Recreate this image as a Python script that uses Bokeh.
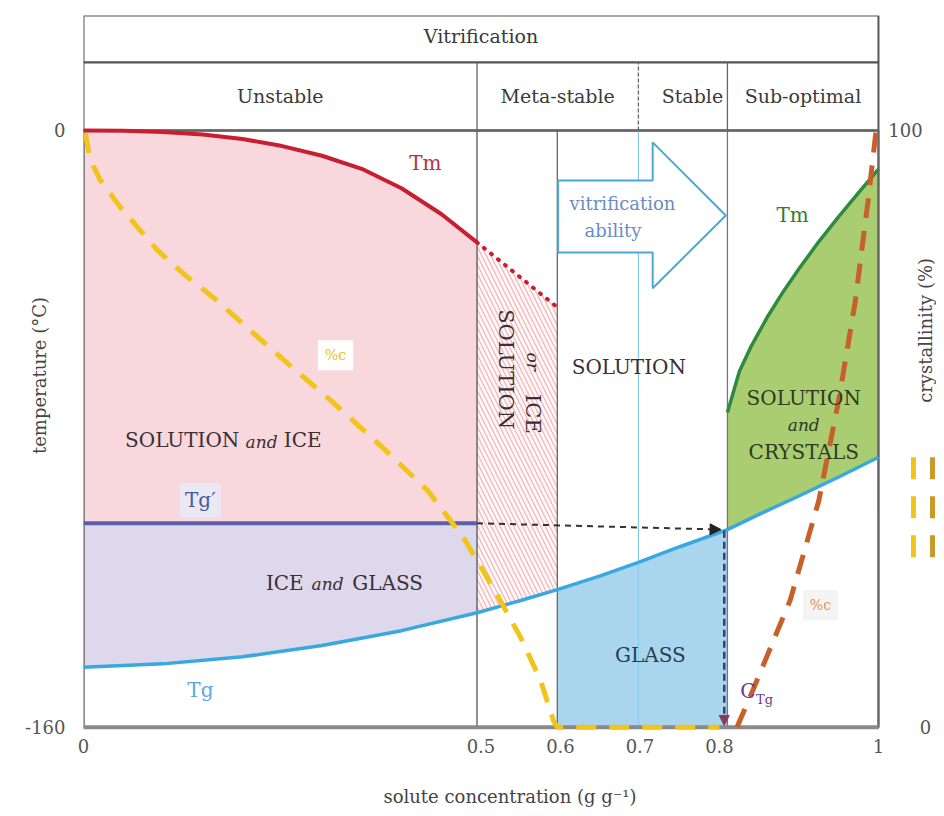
import numpy as np
from bokeh.plotting import figure
from bokeh.models import Range1d, FixedTicker, Arrow, NormalHead
from bokeh.core.properties import value
from bokeh.embed import file_html
from bokeh.resources import INLINE

# ---------------- data ----------------
x_ticks = [0, 0.5, 0.6, 0.7, 0.8, 1]
x_tick_labels = ["0", "0.5", "0.6", "0.7", "0.8", "1"]
temp_ticks = [-160, 0]
temp_tick_labels = ["-160", "0"]
cryst_ticks = [0, 100]
cryst_tick_labels = ["0", "100"]

# region boundaries (solute concentration, g/g)
zone_edges = [0.0, 0.495, 0.596, 0.698, 0.81, 1.0]
header_edges = [0.0, 0.495, 0.698, 0.81, 1.0]
header_names = ["Unstable", "Meta-stable", "Stable", "Sub-optimal"]

# ice melting curve Tm (°C)
tm_ice_x = [0.0, 0.05, 0.1, 0.15, 0.2, 0.25, 0.3, 0.35, 0.4, 0.45, 0.495]
tm_ice_t = [0.0, -0.1, -0.4, -1.1, -2.3, -4.2, -6.8, -10.3, -15.5, -22.4, -30.0]
tm_ice_meta_x = [0.495, 0.596]
tm_ice_meta_t = [-30.0, -47.4]

# Tg' (°C)
tg_prime = -105.3

# glass transition curve Tg (°C)
tg_x = [0.0, 0.1, 0.2, 0.3, 0.4, 0.495, 0.55, 0.596, 0.65, 0.698, 0.75, 0.81, 0.86, 0.9, 0.95, 1.0]
tg_t = [-143.9, -143.0, -141.1, -138.1, -134.1, -129.3, -126.0, -123.1, -119.4, -115.8,
        -111.6, -107.0, -101.9, -98.0, -92.9, -87.6]

# solute melting curve Tm (°C)
tm_sol_x = [0.81, 0.825, 0.84, 0.86, 0.88, 0.9, 0.925, 0.95, 0.975, 1.0]
tm_sol_t = [-75.6, -64.6, -57.8, -50.1, -43.3, -37.1, -29.8, -23.1, -16.7, -10.4]

# crystallinity (%) - ice
cryst_ice_x = [0.0025, 0.0063, 0.0126, 0.0214, 0.0465, 0.0931, 0.1283, 0.1635, 0.2478,
               0.3107, 0.3736, 0.4327, 0.478, 0.5208, 0.5497, 0.5748, 0.5912, 0.596, 0.80]
cryst_ice_pct = [99.5, 96.6, 94.0, 91.6, 87.1, 79.9, 75.7, 72.0, 62.0,
                 54.8, 47.2, 39.7, 31.8, 22.1, 15.1, 7.9, 1.1, 0.0, 0.0]

# crystallinity (%) - solute
cryst_sol_x = [0.822, 0.842, 0.889, 0.925, 0.950, 0.971, 0.987, 0.997]
cryst_sol_pct = [0.0, 6.2, 21.3, 38.0, 54.8, 71.5, 88.3, 100.0]

c_tg = 0.806
T_MIN, T_MAX = -160, 0

# ---------------- figure ----------------
FONT = value("DejaVu Serif")
HDR1 = (18.2, 30.8)   # header rows drawn above T = 0
HDR2 = (0.0, 18.2)
Y0, Y1 = -162.2, 30.8

p = figure(frame_width=853, frame_height=720,
           x_range=Range1d(0, 1.073), y_range=Range1d(Y0, Y1),
           output_backend="svg", toolbar_location=None,
           min_border_left=83, min_border_top=15, min_border_right=0, min_border_bottom=10)
p.extra_y_ranges = {"cryst": Range1d((Y0 - T_MIN) / 1.6, (Y1 - T_MIN) / 1.6)}
p.outline_line_color = None
p.grid.visible = False
p.background_fill_color = "white"
p.border_fill_color = "white"

for ax in (p.xaxis[0], p.yaxis[0]):
    ax.axis_line_color = None
    ax.major_tick_line_color = None
    ax.minor_tick_line_color = None
    ax.major_tick_out = 0
    ax.major_tick_in = 0
    ax.minor_tick_out = 0
    ax.major_label_text_font = "DejaVu Serif"
    ax.major_label_text_font_size = "18px"
    ax.major_label_text_color = "#555555"
    ax.axis_label_text_font = "DejaVu Serif"
    ax.axis_label_text_font_size = "18px"
    ax.axis_label_text_font_style = "normal"
    ax.axis_label_text_color = "#444444"

p.xaxis.ticker = FixedTicker(ticks=x_ticks)
p.xaxis.major_label_overrides = dict(zip(x_ticks, x_tick_labels))
p.xaxis.axis_label = "solute concentration (g g\u207b\u00b9)"
p.xaxis.major_label_standoff = 3
p.xaxis.axis_label_standoff = 30

p.yaxis.ticker = FixedTicker(ticks=temp_ticks)
p.yaxis.major_label_overrides = dict(zip(temp_ticks, temp_tick_labels))
p.yaxis.axis_label = "temperature (\u00b0C)"
p.yaxis.major_label_standoff = 18
p.yaxis.axis_label_standoff = -28

# background box
p.quad(left=[0], right=[1], bottom=[T_MIN], top=[T_MAX], fill_color="white", line_color=None)

# ---- fills ----
tg_x_a = np.array(tg_x)
tg_t_a = np.array(tg_t)
m_ice = tg_x_a <= zone_edges[1]
p.patch(tm_ice_x + [zone_edges[1], 0.0], tm_ice_t + [tg_prime, tg_prime],
        fill_color="#f8d8dd", line_color=None)
p.patch(list(tg_x_a[m_ice]) + [zone_edges[1], 0.0], list(tg_t_a[m_ice]) + [tg_prime, tg_prime],
        fill_color="#ddd8ec", line_color=None)
m_meta = (tg_x_a >= zone_edges[1]) & (tg_x_a <= zone_edges[2])
p.patch(tm_ice_meta_x + list(tg_x_a[m_meta][::-1]), tm_ice_meta_t + list(tg_t_a[m_meta][::-1]),
        fill_color="#fff6f7", line_color=None,
        hatch_pattern="\\", hatch_color="#f0b4b8", hatch_scale=9, hatch_weight=1.2)
m_glass = (tg_x_a >= zone_edges[2]) & (tg_x_a <= zone_edges[4])
p.patch(list(tg_x_a[m_glass]) + [zone_edges[4], zone_edges[2]],
        list(tg_t_a[m_glass]) + [T_MIN, T_MIN],
        fill_color="#a9d5ee", line_color=None)
m_sol = tg_x_a >= zone_edges[4]
p.patch(tm_sol_x + list(tg_x_a[m_sol][::-1]), tm_sol_t + list(tg_t_a[m_sol][::-1]),
        fill_color="#aacd72", line_color=None)

# ---- header boxes ----
p.quad(left=[0, 0], right=[1, 1], bottom=[HDR1[0], HDR2[0]], top=[HDR1[1], HDR2[1]],
       fill_color="white", line_color="#555555", line_width=2)
for xe in header_edges[1:-1]:
    dash = "4 2" if xe == zone_edges[3] else "solid"
    p.segment(x0=[xe], y0=[HDR2[0]], x1=[xe], y1=[HDR2[1]], line_color="#666666",
              line_width=1.3, line_dash=dash)
hdr_mid = [(a + b) / 2 for a, b in zip(header_edges[:-1], header_edges[1:])]
hdr_mid[2] += 0.012
p.text(x=hdr_mid, y=[9.2] * 4, text=header_names, text_font=FONT, text_font_size="19px",
       text_color="#3a3a3a", text_align="center", text_baseline="middle")
p.text(x=[0.5], y=[25.3], text=["Vitrification"], text_font=FONT, text_font_size="19px",
       text_color="#3a3a3a", text_align="center", text_baseline="middle")

# ---- vertical dividers in plot ----
p.segment(x0=[zone_edges[1], zone_edges[2], zone_edges[4]], y0=[T_MAX] * 3,
          x1=[zone_edges[1], zone_edges[2], zone_edges[4]], y1=[T_MIN] * 3,
          line_color=["#555555", "#666666", "#777777"], line_width=1.3)
p.segment(x0=[zone_edges[3]], y0=[T_MAX], x1=[zone_edges[3]], y1=[T_MIN],
          line_color="#8ccbec", line_width=1.2)

# ---- vitrification ability arrow ----
ax_l, ax_m, ax_r = zone_edges[2] + 0.001, 0.716, zone_edges[4] - 0.002
p.patch([ax_l, ax_m, ax_m, ax_r, ax_m, ax_m, ax_l],
        [-13.4, -13.4, -3.2, -22.8, -42.3, -32.7, -32.7],
        fill_color="white", line_color="#4ba8d8", line_width=2)
p.text(x=[0.678, 0.666], y=[-19.6, -26.8], text=["vitrification", "ability"], text_font=FONT,
       text_font_size="18px", text_color="#6a8cc4", text_align="center", text_baseline="middle")

# ---- plot frame (under the curves) ----
p.quad(left=[0], right=[1], bottom=[T_MIN], top=[T_MAX], fill_color=None,
       line_color="#666666", line_width=2.5)
p.line([0, 1], [T_MIN, T_MIN], line_color="#8a8a8a", line_width=4)

# ---- curves ----
p.line(tm_ice_x, tm_ice_t, line_color="#c81f30", line_width=4)
p.line(tm_ice_meta_x, tm_ice_meta_t, line_color="#c81f30", line_width=4,
       line_dash="1 8", line_cap="round")
p.line([0, zone_edges[1]], [tg_prime, tg_prime], line_color="#5b5fa8", line_width=4)
p.line(tg_x, tg_t, line_color="#3aa8e0", line_width=3.5)
p.line(tm_sol_x, tm_sol_t, line_color="#2e8b3e", line_width=3.5)
p.line(cryst_ice_x, cryst_ice_pct, y_range_name="cryst", line_color="#f2c318",
       line_width=5, line_dash="20 13")
p.line(cryst_sol_x, cryst_sol_pct, y_range_name="cryst", line_color="#c8602a",
       line_width=5, line_dash="20 13")

# dashed arrows (Tg' -> C_Tg)
tg_at_ctg = float(np.interp(c_tg, tg_x, tg_t))
p.add_layout(Arrow(x_start=zone_edges[1], y_start=tg_prime, x_end=c_tg - 0.004, y_end=tg_at_ctg + 0.3,
                   line_color="#333333", line_width=2, line_dash="6 5",
                   end=NormalHead(size=11, fill_color="#222222", line_color="#222222")))
p.add_layout(Arrow(x_start=c_tg, y_start=tg_at_ctg, x_end=c_tg, y_end=T_MIN + 0.5,
                   line_color="#3d3d7a", line_width=2.5, line_dash="7 4",
                   end=NormalHead(size=10, fill_color="#8a3a5a", line_color="#8a3a5a")))

# ---- region labels ----
def txt(x, y, s, size="20px", color="#3a2f35", style="normal", align="center", angle=0,
        **kw):
    p.text(x=[x], y=[y], text=[s], text_font=FONT, text_font_size=size, text_color=color,
           text_font_style=style, text_align=align, text_baseline="middle", angle=angle, **kw)

txt(0.430, -8.8, "Tm", color="#b8303a")
txt(0.892, -22.8, "Tm", color="#2e7d32")

txt(0.196, -83.1, "SOLUTION", align="right")
txt(0.224, -83.4, "and", size="17px", style="italic")
txt(0.252, -83.1, "ICE", align="left")

txt(0.277, -121.4, "ICE", align="right")
txt(0.307, -121.7, "and", size="17px", style="italic")
txt(0.338, -121.4, "GLASS", align="left")

txt(0.147, -99.2, "Tg\u2032", color="#4a5a9a", background_fill_color="#eae8f4", padding=5)
txt(0.147, -150.1, "Tg", color="#5aa8e0")

txt(0.317, -60.3, "%c", size="14px", color="#e8c020", background_fill_color="white", padding=7)
txt(0.927, -127.3, "%c", size="14px", color="#e89050", background_fill_color="#f4f4f4", padding=7)

txt(0.531, -64.0, "SOLUTION", size="21px", angle=-np.pi / 2)
txt(0.565, -62.0, "or", size="17px", style="italic", angle=-np.pi / 2)
txt(0.565, -76.0, "ICE", size="21px", angle=-np.pi / 2)

txt(0.686, -63.5, "SOLUTION")
txt(0.713, -140.7, "GLASS", color="#23404f")

txt(0.906, -71.6, "SOLUTION", color="#2f3a20")
txt(0.906, -79.1, "and", size="17px", style="italic", color="#2f3a20")
txt(0.906, -86.3, "CRYSTALS", color="#2f3a20")

txt(0.826, -150.3, "C", color="#6a3d8a", align="left")
txt(0.846, -152.6, "Tg", size="13px", color="#6a3d8a", align="left")

# ---- right crystallinity axis (drawn as text) ----
p.text(x=[1.059, 1.034], y=cryst_ticks, text=cryst_tick_labels, y_range_name="cryst",
       text_font=FONT, text_font_size="18px", text_color="#555555",
       text_align="center", text_baseline="middle")
txt(1.059, -53.6, "crystallinity (%)", size="18px", color="#444444", angle=np.pi / 2)

# key marks for the two crystallinity curves
p.segment(x0=[1.044, 1.068], y0=[-87.6, -87.6], x1=[1.044, 1.068], y1=[-114.4, -114.4],
          line_color=["#f2c318", "#c89a2a"], line_width=5, line_dash="22 17")

open("out.html", "w").write(file_html(p, INLINE))
